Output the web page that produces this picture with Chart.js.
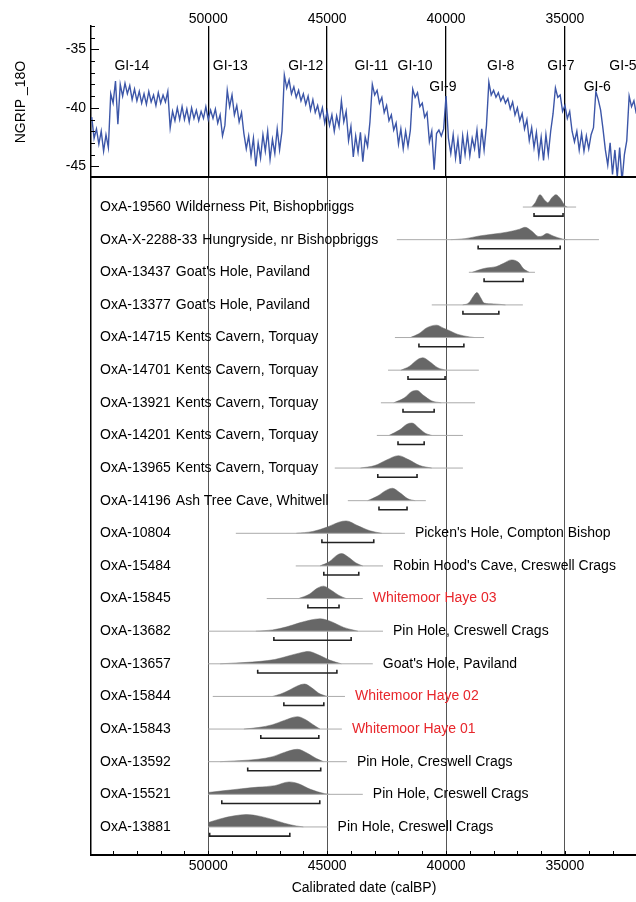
<!DOCTYPE html>
<html>
<head>
<meta charset="utf-8">
<title>Calibrated dates and NGRIP</title>
<script src="https://cdn.jsdelivr.net/npm/chart.js@4.4.1/dist/chart.umd.min.js"></script>
<style>
    html, body { margin: 0; padding: 0; background: #fff; overflow: hidden; }
    .panel { position: absolute; left: 0; }
    #topPanel { top: 0; }
    #bottomPanel { top: 178px; }
</style>
</head>
<body>
<canvas id="topPanel" class="panel" width="637" height="178"></canvas>
<canvas id="bottomPanel" class="panel" width="637" height="724"></canvas>
<script>
const FONT = "'Liberation Sans', Arial, Helvetica, sans-serif";

// ---- data ----
const majorYears = [50000, 45000, 40000, 35000];

// NGRIP d18O, one reading every 100 years from 54900 calBP down to 32000 calBP
const ngripStart = 54900;
const ngripStep = 100;
const ngripValues = [
    -40.8, -42.6, -41.8, -43.1, -42.0, -43.7, -42.3, -43.4, -38.8, -39.6,
    -37.7, -41.4, -38.0, -39.0, -37.9, -38.8, -38.1, -39.3, -38.4, -39.4,
    -38.6, -39.6, -38.8, -39.7, -38.6, -39.5, -38.9, -39.8, -38.7, -39.6,
    -38.9, -39.5, -38.6, -41.7, -40.3, -41.1, -40.0, -41.0, -39.9, -41.0,
    -40.1, -41.2, -40.0, -40.9, -40.2, -41.1, -40.3, -40.9, -39.9, -41.0,
    -40.2, -40.9, -40.1, -41.3, -40.6, -42.4, -41.5, -38.5, -39.9, -38.9,
    -40.6, -39.8, -41.2, -40.4, -42.2, -43.5, -42.4, -44.1, -42.6, -45.0,
    -43.0, -44.3, -42.3, -43.7, -42.0, -44.4, -42.7, -43.9, -41.8, -43.6,
    -42.0, -37.2, -38.3, -37.6, -38.8, -38.2, -39.1, -38.5, -39.4, -38.8,
    -39.7, -39.0, -40.2, -39.3, -40.4, -39.8, -40.8, -40.0, -41.3, -40.3,
    -41.5, -40.6, -42.0, -40.7, -41.6, -39.4, -41.2, -40.3, -42.8, -41.6,
    -44.2, -42.4, -43.8, -42.1, -44.6, -42.5, -43.3, -41.2, -38.0, -38.9,
    -38.5, -39.6, -39.1, -40.4, -39.8, -41.1, -40.6, -41.9, -41.3, -43.1,
    -41.8, -43.5, -42.0, -43.3, -41.9, -38.4, -39.1, -38.7, -39.9, -39.6,
    -40.8, -40.4, -42.9, -42.0, -45.3, -42.2, -41.9, -42.4, -41.8, -39.0,
    -42.6, -43.9, -42.3, -44.3, -42.7, -44.8, -42.4, -44.0, -42.3, -44.1,
    -42.6, -43.5, -41.9, -44.3, -41.8, -43.6, -41.5, -37.8, -38.9, -38.5,
    -39.1, -38.7, -39.4, -39.0, -39.6, -39.2, -40.1, -39.5, -40.6, -40.0,
    -41.1, -40.5, -41.8, -41.0, -42.8, -41.7, -43.4, -42.1, -44.1, -42.5,
    -44.5, -42.3, -44.0, -42.0, -40.5, -38.3, -39.1, -38.9, -40.3, -39.8,
    -40.9, -40.3, -42.0, -42.9, -42.0, -43.6, -42.2, -43.7, -42.4, -43.5,
    -42.3, -41.7, -38.6, -39.3, -40.2, -41.8, -43.6, -44.9, -43.0, -45.7,
    -43.6, -45.9, -43.4, -46.3, -44.0, -42.8, -39.0, -39.9, -39.4, -40.5
];

const giNames = ['GI-14', 'GI-13', 'GI-12', 'GI-11', 'GI-10', 'GI-9', 'GI-8', 'GI-7', 'GI-6', 'GI-5'];
const giYears = [53210, 49070, 45900, 43140, 41300, 40130, 37700, 35170, 33640, 32560];
const giLevels = [-36.45, -36.45, -36.45, -36.45, -36.45, -38.2, -36.45, -36.45, -38.2, -36.45];

const codes = ['OxA-19560', 'OxA-X-2288-33', 'OxA-13437', 'OxA-13377', 'OxA-14715',
    'OxA-14701', 'OxA-13921', 'OxA-14201', 'OxA-13965', 'OxA-14196',
    'OxA-10804', 'OxA-15484', 'OxA-15845', 'OxA-13682', 'OxA-13657',
    'OxA-15844', 'OxA-15843', 'OxA-13592', 'OxA-15521', 'OxA-13881'];
const sites = ['Wilderness Pit, Bishopbriggs', 'Hungryside, nr Bishopbriggs', "Goat's Hole, Paviland", "Goat's Hole, Paviland", 'Kents Cavern, Torquay',
    'Kents Cavern, Torquay', 'Kents Cavern, Torquay', 'Kents Cavern, Torquay', 'Kents Cavern, Torquay', 'Ash Tree Cave, Whitwell',
    "Picken's Hole, Compton Bishop", "Robin Hood's Cave, Creswell Crags", 'Whitemoor Haye 03', 'Pin Hole, Creswell Crags', "Goat's Hole, Paviland",
    'Whitemoor Haye 02', 'Whitemoor Haye 01', 'Pin Hole, Creswell Crags', 'Pin Hole, Creswell Crags', 'Pin Hole, Creswell Crags'];
const redSites = ['Whitemoor Haye 03', 'Whitemoor Haye 02', 'Whitemoor Haye 01'];

// full extent of each calibrated distribution (older, younger)
const spans = [[36770, 34530], [42070, 33570], [39040, 36260], [40600, 36770], [42150, 38400],
    [42440, 38620], [42740, 38780], [42910, 39290], [44680, 39290], [44130, 40850],
    [48840, 41730], [46320, 42650], [47540, 43500], [50000, 42650], [50000, 43080],
    [49810, 44250], [50000, 44380], [50000, 44170], [50000, 43500], [50000, 44980]];

// modelled range shown as a bracket under each distribution
const ranges = [[36300, 35080], [38650, 35200], [38400, 36760], [39290, 37780], [41140, 39250],
    [41600, 40040], [41810, 40500], [42020, 40920], [42870, 41220], [42820, 41640],
    [45220, 43040], [45140, 43670], [45810, 44500], [47240, 43990], [47920, 44590],
    [46820, 45140], [47790, 45350], [48340, 45270], [49430, 45310], [49940, 46570]];

// relative probability (peak = 1) read along each distribution
const densities = [
    [[36400, 0], [36250, 0.35], [36050, 1], [35850, 0.55], [35720, 0.35], [35550, 0.75], [35380, 1], [35200, 0.7], [35000, 0.1], [34900, 0]],
    [[39800, 0], [39200, 0.08], [38600, 0.3], [38000, 0.45], [37400, 0.62], [36900, 0.85], [36680, 1], [36400, 0.7], [36100, 0.25], [35950, 0.3], [35760, 0.5], [35500, 0.3], [35100, 0.05], [34900, 0]],
    [[38900, 0], [38600, 0.2], [38300, 0.35], [37900, 0.45], [37600, 0.7], [37250, 1], [36950, 0.8], [36750, 0.3], [36500, 0]],
    [[39300, 0], [39050, 0.15], [38850, 0.7], [38700, 1], [38550, 0.6], [38400, 0.15], [38000, 0.08], [37500, 0]],
    [[41500, 0], [41150, 0.3], [40800, 0.8], [40400, 1], [40100, 0.75], [39850, 0.55], [39500, 0.25], [39000, 0.05], [38800, 0]],
    [[41900, 0], [41550, 0.3], [41200, 0.85], [40970, 1], [40700, 0.7], [40350, 0.2], [40000, 0]],
    [[42200, 0], [41750, 0.4], [41450, 0.9], [41220, 1], [40950, 0.6], [40600, 0.15], [40200, 0]],
    [[42400, 0], [41950, 0.45], [41650, 0.9], [41430, 1], [41150, 0.6], [40850, 0.15], [40600, 0]],
    [[43600, 0], [43000, 0.2], [42500, 0.65], [42000, 1], [41600, 0.7], [41100, 0.2], [40600, 0]],
    [[43300, 0], [42900, 0.35], [42500, 0.85], [42250, 1], [41950, 0.65], [41600, 0.15], [41300, 0]],
    [[46300, 0], [45600, 0.15], [45000, 0.5], [44500, 0.9], [44200, 1], [43700, 0.6], [43200, 0.2], [42700, 0]],
    [[45300, 0], [44900, 0.35], [44600, 0.85], [44400, 1], [44100, 0.7], [43800, 0.25], [43500, 0]],
    [[46200, 0], [45750, 0.35], [45400, 0.85], [45150, 1], [44850, 0.7], [44500, 0.25], [44200, 0]],
    [[48000, 0], [47300, 0.1], [46700, 0.35], [46200, 0.65], [45700, 0.9], [45300, 1], [44800, 0.75], [44300, 0.3], [43700, 0]],
    [[49500, 0], [48500, 0.1], [47800, 0.2], [47200, 0.35], [46600, 0.65], [46100, 0.9], [45800, 1], [45400, 0.75], [44900, 0.3], [44400, 0]],
    [[47300, 0], [46950, 0.2], [46600, 0.5], [46250, 0.85], [45950, 1], [45650, 0.7], [45350, 0.25], [45000, 0]],
    [[48500, 0], [47900, 0.12], [47300, 0.35], [46800, 0.7], [46250, 1], [45900, 0.75], [45550, 0.3], [45300, 0]],
    [[49500, 0], [48700, 0.08], [47900, 0.2], [47300, 0.4], [46800, 0.75], [46250, 1], [45850, 0.7], [45450, 0.25], [45150, 0]],
    [[50000, 0.15], [49300, 0.3], [48600, 0.45], [47900, 0.58], [47200, 0.7], [46600, 1], [46200, 0.85], [45700, 0.4], [45100, 0.05], [44900, 0]],
    [[50000, 0.35], [49500, 0.65], [48900, 0.9], [48400, 1], [47800, 0.85], [47300, 0.6], [46800, 0.3], [46300, 0.08], [46000, 0]]
];

// ---- layout / style ----
const X_MIN = 31970, X_MAX = 54930;
const AXIS_W = 91;
const PEAK = 0.38;      // tallest density, in row units
const BAR_Y = 0.28;     // range bracket offset below baseline
const BAR_TICK = 0.1;

function noPad(s) {
    s.paddingLeft = 0; s.paddingRight = 0; s.paddingTop = 0; s.paddingBottom = 0;
}

// ---- top panel: NGRIP ----
const topDecor = {
    id: 'topDecor',
    afterDraw(chart) {
        const { ctx, chartArea: a, scales: { x, y } } = chart;
        ctx.save();
        ctx.strokeStyle = '#000';
        ctx.lineWidth = 1;
        for (let v = -46; v <= -33; v++) {
            const py = Math.round(y.getPixelForValue(v)) + 0.5;
            const len = v % 5 === 0 ? 8 : 4;
            ctx.beginPath(); ctx.moveTo(a.left, py); ctx.lineTo(a.left + len, py); ctx.stroke();
        }
        ctx.lineWidth = 2;
        ctx.beginPath(); ctx.moveTo(a.left, a.bottom - 1); ctx.lineTo(a.right, a.bottom - 1); ctx.stroke();
        ctx.fillStyle = '#000';
        ctx.font = '14px ' + FONT;
        ctx.textAlign = 'center';
        ctx.textBaseline = 'middle';
        giNames.forEach((t, i) => ctx.fillText(t, x.getPixelForValue(giYears[i]), y.getPixelForValue(giLevels[i])));
        ctx.restore();
    }
};

new Chart(document.getElementById('topPanel'), {
    type: 'line',
    data: {
        datasets: [{
            data: ngripValues.map((v, i) => ({ x: ngripStart - i * ngripStep, y: v })),
            borderColor: '#3c56a8',
            borderWidth: 1.4,
            pointRadius: 0,
            tension: 0
        }]
    },
    options: {
        responsive: false,
        animation: false,
        devicePixelRatio: 1,
        layout: { padding: 0, autoPadding: false },
        plugins: { legend: { display: false }, tooltip: { enabled: false } },
        scales: {
            x: {
                type: 'linear', position: 'top', min: X_MIN, max: X_MAX, reverse: true,
                afterBuildTicks: s => { s.ticks = majorYears.map(v => ({ value: v })); },
                afterFit: s => { s.height = 26; noPad(s); },
                grid: { color: '#000', lineWidth: 1.3, drawTicks: false },
                border: { display: false },
                ticks: { color: '#000', font: { family: FONT, size: 14 }, padding: -2, maxRotation: 0, callback: v => String(v) }
            },
            y: {
                min: -46, max: -33,
                afterBuildTicks: s => { s.ticks = [-45, -40, -35].map(v => ({ value: v })); },
                afterFit: s => { s.width = AXIS_W; noPad(s); },
                grid: { display: false, drawTicks: false },
                border: { display: true, color: '#000', width: 1.5 },
                ticks: { color: '#000', font: { family: FONT, size: 14 }, padding: 5, callback: v => String(v) },
                title: { display: true, text: 'NGRIP _18O', color: '#000', font: { family: FONT, size: 14 }, padding: { top: 13 } }
            }
        }
    },
    plugins: [topDecor]
});

// ---- bottom panel: calibrated dates ----
const bottomSets = [];
codes.forEach((code, r) => {
    bottomSets.push({
        data: spans[r].map(x => ({ x, y: r })),
        borderColor: '#ababab', borderWidth: 1, pointRadius: 0
    });
    bottomSets.push({
        data: densities[r].map(([x, d]) => ({ x, y: r - d * PEAK })),
        borderColor: '#676767', backgroundColor: '#676767', borderWidth: 0.5,
        fill: { value: r }, pointRadius: 0, cubicInterpolationMode: 'monotone'
    });
    const [from, to] = ranges[r];
    bottomSets.push({
        data: [{ x: from, y: r + BAR_Y - BAR_TICK }, { x: from, y: r + BAR_Y }, { x: to, y: r + BAR_Y }, { x: to, y: r + BAR_Y - BAR_TICK }],
        borderColor: '#222', borderWidth: 1.6, pointRadius: 0, tension: 0
    });
});

const bottomDecor = {
    id: 'bottomDecor',
    afterDatasetsDraw(chart) {
        const { ctx, chartArea: a, scales: { x, y } } = chart;
        ctx.save();
        ctx.font = '14px ' + FONT;
        ctx.textBaseline = 'middle';
        ctx.textAlign = 'left';
        codes.forEach((code, r) => {
            const py = y.getPixelForValue(r);
            ctx.fillStyle = '#000';
            ctx.fillText(code, a.left + 9, py);
            ctx.fillStyle = redSites.includes(sites[r]) ? '#e8262b' : '#000';
            if (r < 10) ctx.fillText(sites[r], a.left + 9 + ctx.measureText(code).width + 5, py);
            else ctx.fillText(sites[r], x.getPixelForValue(spans[r][1]) + 10, py);
        });
        // minor ticks every 1000 years, pointing up into the panel
        ctx.strokeStyle = '#000';
        ctx.lineWidth = 1;
        for (let v = 33000; v <= 54000; v += 1000) {
            const px = Math.round(x.getPixelForValue(v)) + 0.5;
            ctx.beginPath(); ctx.moveTo(px, a.bottom); ctx.lineTo(px, a.bottom - 4); ctx.stroke();
        }
        ctx.restore();
    }
};

new Chart(document.getElementById('bottomPanel'), {
    type: 'line',
    data: { datasets: bottomSets },
    options: {
        responsive: false,
        animation: false,
        devicePixelRatio: 1,
        layout: { padding: 0, autoPadding: false },
        plugins: { legend: { display: false }, tooltip: { enabled: false } },
        scales: {
            x: {
                type: 'linear', position: 'bottom', min: X_MIN, max: X_MAX, reverse: true,
                afterBuildTicks: s => { s.ticks = majorYears.map(v => ({ value: v })); },
                afterFit: s => { s.height = 47; noPad(s); },
                grid: { color: '#555', lineWidth: 1, drawTicks: false },
                border: { display: true, color: '#000', width: 2 },
                ticks: { color: '#000', font: { family: FONT, size: 14 }, padding: 3, maxRotation: 0, callback: v => String(v) },
                title: { display: true, text: 'Calibrated date (calBP)', color: '#000', font: { family: FONT, size: 14 }, padding: { top: 0, bottom: 5.6 } }
            },
            y: {
                min: -0.89, max: 19.86, reverse: true,
                afterFit: s => { s.width = AXIS_W; noPad(s); },
                grid: { display: false },
                border: { display: true, color: '#000', width: 1.5 },
                ticks: { display: false }
            }
        }
    },
    plugins: [bottomDecor]
});
</script>
</body>
</html>
